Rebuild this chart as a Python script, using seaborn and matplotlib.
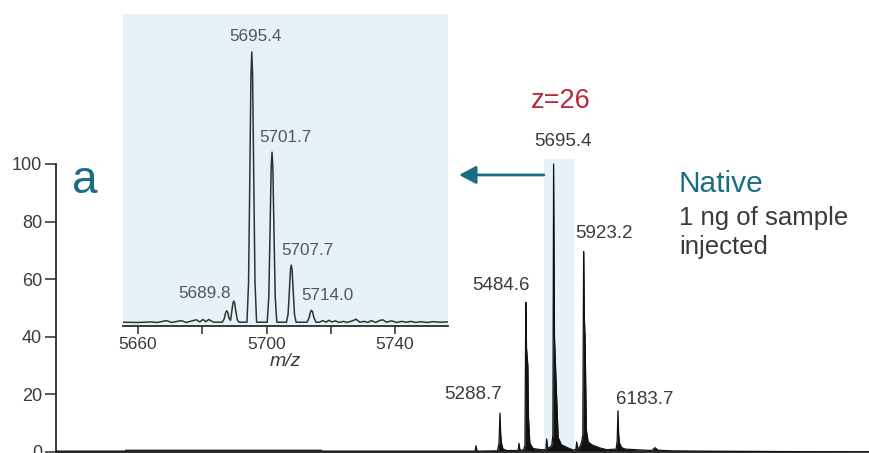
import seaborn as sns
import matplotlib.pyplot as plt
import pandas as pd

# main spectrum, trace points (m/z, relative intensity)
main_mz = [1920, 2440, 2450, 3930, 3945, 5100, 5107, 5114, 5270, 5281, 5288.7, 5294, 5300, 5312,
           5340, 5426, 5433, 5440, 5468, 5478, 5484.6, 5490, 5500, 5505, 5515, 5540, 5600, 5637,
           5643, 5649, 5664, 5682, 5690, 5695.4, 5702, 5716, 5730, 5755, 5800, 5843, 5864, 5870.6,
           5877, 5897, 5908, 5917, 5923.2, 5929, 5934, 5944, 5958, 5985, 6047, 6100, 6170, 6178,
           6183.7, 6189, 6196, 6212, 6240, 6440, 6464, 6490, 6600, 6810, 8096]
main_int = [0.3, 0.3, 0.6, 0.6, 0.3, 0.3, 2.2, 0.3, 0.4, 3, 13.5, 6, 3, 1,
            0.5, 0.5, 3, 0.6, 0.8, 2.4, 52, 36, 30, 12, 3, 1.2, 0.8, 0.8,
            4.5, 1.5, 1.5, 2.4, 6, 100, 40, 21.8, 5, 2.5, 1.5, 0.7, 0.8, 3.5,
            1, 2, 3.5, 6, 69.6, 46, 40, 7.6, 3.5, 2.5, 1.4, 0.8, 1, 4,
            14.3, 6, 3, 1.5, 1, 0.5, 1.5, 0.6, 0.4, 0.3, 0.0]

# zoomed spectrum around z=26
inset_mz = [5655.3, 5660, 5664, 5666, 5668.8, 5670.5, 5673.4, 5675, 5678.1, 5679.2, 5680.2, 5681.1,
            5682.0, 5683.5, 5686.2, 5686.8, 5687.3, 5687.6, 5687.9, 5688.3, 5688.8, 5689.2, 5689.55,
            5689.8, 5690.05, 5690.4, 5690.9, 5691.4, 5693.9, 5694.4, 5694.8, 5695.15, 5695.4,
            5695.65, 5696.0, 5696.4, 5696.9, 5700.2, 5700.7, 5701.1, 5701.45, 5701.7, 5701.95,
            5702.3, 5702.7, 5703.2, 5706.2, 5706.7, 5707.1, 5707.45, 5707.7, 5707.95, 5708.3,
            5708.7, 5709.2, 5712.6, 5713.2, 5713.7, 5714.0, 5714.3, 5714.8, 5715.4, 5716.5, 5717.5,
            5718.5, 5719.4, 5720.3, 5721.5, 5722.5, 5724, 5725, 5726.5, 5727.9, 5729, 5730.5,
            5731.5, 5732.6, 5734, 5735.2, 5736.2, 5737.3, 5739, 5740.5, 5742, 5743.5, 5745, 5746.5,
            5748, 5750, 5752, 5754, 5756.5]
inset_int = [0.3, 0.2, 0.4, 0.2, 0.9, 0.2, 0.9, 0.2, 1.2, 0.4, 1.3, 0.5,
             1.3, 0.3, 0.3, 1.5, 4.0, 4.5, 4.0, 1.8, 1.0, 4.5, 7.5,
             8.1, 7.5, 4.5, 1.2, 0.3, 0.3, 15, 55, 92, 100,
             92, 55, 15, 0.3, 0.3, 9.5, 34.7, 58, 63, 58,
             34.7, 9.5, 0.3, 0.3, 3.2, 11.8, 19.7, 21.4, 19.7, 11.8,
             3.2, 0.3, 0.3, 1.8, 4.2, 4.7, 4.2, 1.8, 0.3, 0.3, 0.9,
             0.3, 1.0, 0.4, 0.8, 0.2, 0.6, 0.2, 0.7, 1.4, 0.3, 0.6,
             0.2, 0.9, 0.2, 0.9, 1.2, 0.3, 0.8, 0.2, 0.6, 0.3, 0.6, 0.2,
             0.5, 0.2, 0.5, 0.3, 0.4]

# labelled peaks: (m/z, height, label offset in pixels, alignment)
main_peaks = [5288.7, 5484.6, 5695.4, 5923.2, 6183.7]
main_heights = [13.5, 52, 100, 69.6, 14.3]
main_offsets = [(2, 14), (4, 12), (9, 18), (-8, 14), (-2, 7)]
main_ha = ['right', 'right', 'center', 'left', 'left']

inset_peaks = [5689.8, 5695.4, 5701.7, 5707.7, 5714.0]
inset_heights = [8.1, 100, 63, 21.4, 4.7]
inset_offsets = [(-3, 3), (3.5, 11), (-12.5, 10), (16, 10), (-10.5, 10)]
inset_ha = ['right', 'center', 'left', 'center', 'left']

band = [5622, 5850]
band_top = 101.7
arrow_y = 96.2
arrow_tip = 4978

yticks = [0, 20, 40, 60, 80, 100]
inset_major = [5660, 5700, 5740]
inset_minor = [5680, 5720]

sns.set_theme(style="ticks")
plt.rcParams['font.family'] = ['Liberation Sans', 'DejaVu Sans']

teal = '#1b6d84'
light = '#e6f2f7'
dark = '#2b2b2b'
grey = '#3a3a3a'

fig = plt.figure(figsize=(8.7, 4.53), dpi=100)
ax = fig.add_axes([56 / 870, 1 / 453, 814 / 870, 316.8 / 453])

main = pd.DataFrame({'mz': main_mz, 'intensity': main_int})
ax.fill_between(band, 0, band_top, color=light, lw=0, zorder=0, clip_on=False)
ax.fill_between(main.mz, 0, main.intensity, color='#111111', lw=0, zorder=2)
sns.lineplot(data=main, x='mz', y='intensity', ax=ax, color='#111111', linewidth=0.9,
             estimator=None, sort=False, zorder=3)

ax.set_xlim(1920, 8096)
ax.set_ylim(0, 110)
ax.set_yticks(yticks)
ax.set_xticks([])
ax.set_xlabel('')
ax.set_ylabel('')
ax.spines[['top', 'right']].set_visible(False)
ax.spines['left'].set_bounds(0, 100)
for s in ['left', 'bottom']:
    ax.spines[s].set_color(dark)
    ax.spines[s].set_linewidth(1.3)
ax.tick_params(axis='y', length=8, width=1.1, color=dark, pad=2, labelsize=13, labelcolor=grey)
ax.patch.set_alpha(0)

for x, h, off, ha in zip(main_peaks, main_heights, main_offsets, main_ha):
    ax.annotate(f'{x:.1f}', xy=(x, h), xytext=off, textcoords='offset pixels',
                ha=ha, va='baseline', fontsize=13.5, color=grey, annotation_clip=False)

ax.annotate('z=26', xy=(5695.4, 100), xytext=(7, 56), textcoords='offset pixels',
            ha='center', va='baseline', fontsize=19.5, color='#b52a3c', annotation_clip=False)

ax.annotate('', xy=(arrow_tip, arrow_y), xytext=(band[0], arrow_y),
            arrowprops=dict(arrowstyle='-|>,head_length=0.85,head_width=0.45', color=teal,
                            lw=2.0, shrinkA=0, shrinkB=0), annotation_clip=False)

fig.text(679 / 870, 1 - 191.7 / 453, 'Native', fontsize=21.5, color=teal, va='baseline')
fig.text(679 / 870, 1 - 225 / 453, '1 ng of sample', fontsize=18.5, color=grey, va='baseline')
fig.text(679 / 870, 1 - 254 / 453, 'injected', fontsize=18.5, color=grey, va='baseline')
fig.text(72 / 870, 1 - 193.3 / 453, 'a', fontsize=33, color=teal, va='baseline')

# inset
ins = fig.add_axes([123 / 870, 1 - 326 / 453, 325 / 870, 312 / 453])
ins.set_facecolor(light)
zoom = pd.DataFrame({'mz': inset_mz, 'intensity': inset_int})
sns.lineplot(data=zoom, x='mz', y='intensity', ax=ins, color='#333333', linewidth=1.1,
             estimator=None, sort=False)
ins.set_xlim(5655.3, 5756.5)
ins.set_ylim(-1.1, 114)
ins.set_yticks([])
ins.set_xticks(inset_major)
ins.set_xticks(inset_minor, minor=True)
ins.set_ylabel('')
ins.set_xlabel('m/z', fontstyle='italic', fontsize=14, color=grey, labelpad=1)
ins.spines[['top', 'right', 'left']].set_visible(False)
ins.spines['bottom'].set_color(dark)
ins.spines['bottom'].set_linewidth(1.3)
ins.tick_params(axis='x', which='both', length=6, width=1.1, color=dark, pad=2,
                labelsize=12.5, labelcolor=grey)

for x, h, off, ha in zip(inset_peaks, inset_heights, inset_offsets, inset_ha):
    ins.annotate(f'{x:.1f}', xy=(x, h), xytext=off, textcoords='offset pixels',
                 ha=ha, va='baseline', fontsize=12.3, color='#555555')

fig.savefig('out.png', dpi=100)
